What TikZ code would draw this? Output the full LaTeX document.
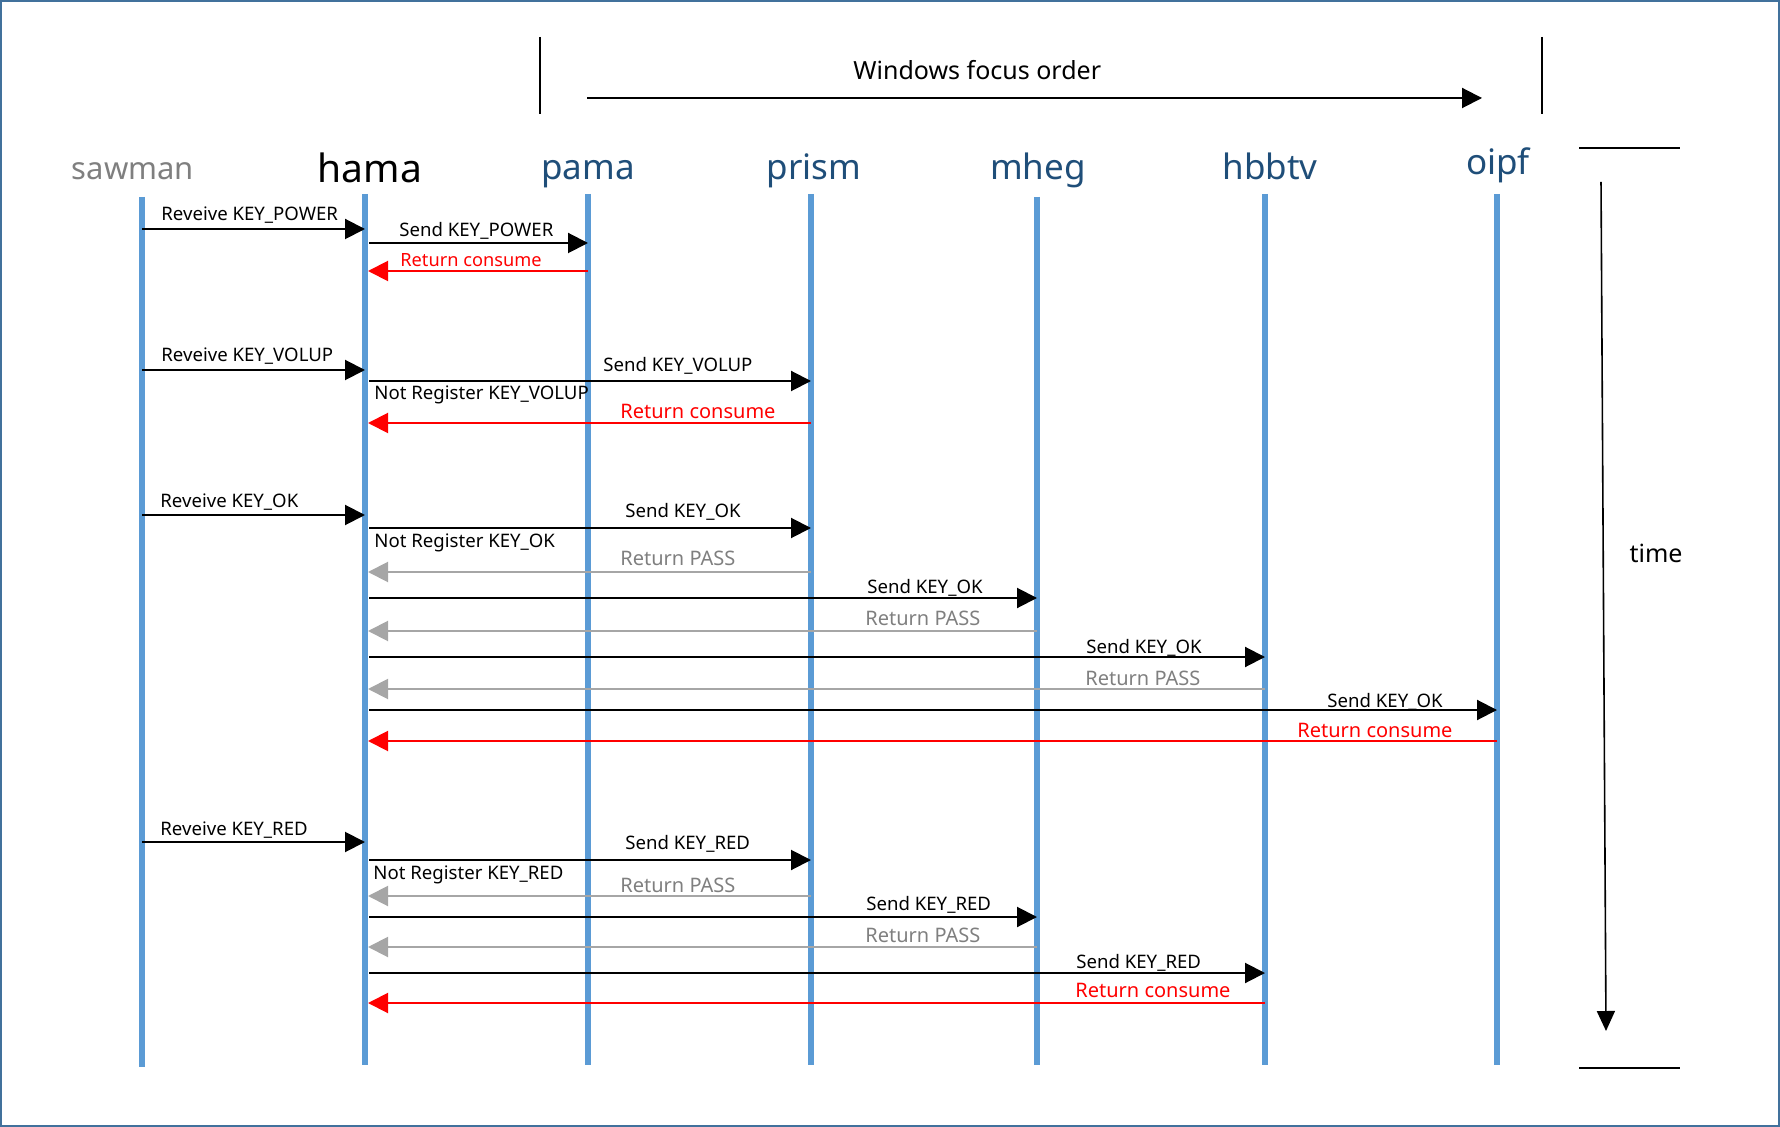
\documentclass[tikz,border=0pt]{standalone}
\usepackage{fontspec}
\setmainfont{Noto Sans}
\usetikzlibrary{arrows.meta}
\definecolor{life}{HTML}{5B9BD5}
\definecolor{headblue}{HTML}{1F4E79}
\definecolor{framec}{HTML}{41719C}
\definecolor{passgray}{HTML}{A6A6A6}
\definecolor{passtext}{HTML}{7F7F7F}
\definecolor{consred}{HTML}{FF0000}
\begin{document}
\begin{tikzpicture}[x=0.5pt,y=-0.5pt,
  lifeline/.style={line width=3pt, color=life},
  tipstyle/.style={-{Triangle[length=10pt,width=10pt]}},
  recvarrow/.style={line width=1pt, tipstyle},
  sendarrow/.style={line width=1pt, tipstyle, shorten <=2pt},
  consarrow/.style={line width=1pt, consred, tipstyle, shorten >=1.5pt},
  passarrow/.style={line width=1pt, passgray, tipstyle, shorten >=1.5pt},
  msg/.style={font=\fontsize{9.3}{11}\selectfont, anchor=base west, inner sep=0pt},
  retmsg/.style={font=\fontsize{10}{12}\selectfont, anchor=base west, inner sep=0pt},
  head/.style={anchor=base, inner sep=0pt, font=\fontsize{17.5}{20}\selectfont, text=headblue},
  thinline/.style={line width=0.6pt, black},
]
\useasboundingbox (0,0) rectangle (1780,1127);
\draw[framec, line width=1.2pt] (1,1) rectangle (1779,1126);

% heads
\node[head, text=passtext, font=\fontsize{15.5}{18}\selectfont] (sawman) at (133,180) {sawman};
\node[head, text=black, font=\fontsize{19.5}{22}\selectfont] (hama) at (370,183) {hama};
\node[head] (pama) at (588,180) {pama};
\node[head] (prism) at (814,180) {prism};
\node[head] (mheg) at (1038,180) {mheg};
\node[head] (hbbtv) at (1270,180) {hbbtv};
\node[head] (oipf) at (1498,175) {oipf};

% lifelines
\coordinate (sawT) at (142,197); \coordinate (sawB) at (142,1067);
\coordinate (hamT) at (365,194); \coordinate (hamB) at (365,1065);
\coordinate (pamT) at (588,194); \coordinate (pamB) at (588,1065);
\coordinate (priT) at (811,194); \coordinate (priB) at (811,1065);
\coordinate (mheT) at (1037,197); \coordinate (mheB) at (1037,1065);
\coordinate (hbbT) at (1265,194); \coordinate (hbbB) at (1265,1065);
\coordinate (oipT) at (1497,194); \coordinate (oipB) at (1497,1065);
\foreach \a/\b in {sawT/sawB,hamT/hamB,pamT/pamB,priT/priB,mheT/mheB,hbbT/hbbB,oipT/oipB}
  \draw[lifeline] (\a) -- (\b);

% window focus order
\node[font=\fontsize{12.5}{15}\selectfont, anchor=base west, inner sep=0pt] (wfo) at (853,80) {Windows focus order};
\coordinate (wfoS) at (587,98); \coordinate (wfoE) at (1482,98);
\draw[line width=1pt, tipstyle] (wfoS) -- (wfoE);
\coordinate (brLt) at (540,37); \coordinate (brLb) at (540,114);
\coordinate (brRt) at (1542,37); \coordinate (brRb) at (1542,114);
\draw[thinline] (brLt) -- (brLb);
\draw[thinline] (brRt) -- (brRb);

% time
\coordinate (tTopA) at (1579,148); \coordinate (tTopB) at (1680,148);
\coordinate (tBotA) at (1579,1068); \coordinate (tBotB) at (1680,1068);
\draw[thinline] (tTopA) -- (tTopB);
\draw[thinline] (tBotA) -- (tBotB);
\coordinate (tS) at (1601,182); \coordinate (tE) at (1606,1031);
\draw[line width=0.8pt, -{Triangle[length=10pt,width=9pt]}] (tS) -- (tE);
\node[font=\fontsize{12.5}{15}\selectfont, anchor=base, inner sep=0pt] (timelbl) at (1656,562) {time};

% ---- KEY_POWER
\draw[recvarrow] (sawT |- 0,229) -- (hamT |- 0,229);
\node[msg] (l1) at (161,221) {Reveive KEY\_POWER};
\draw[sendarrow] (hamT |- 0,243) -- (pamT |- 0,243);
\node[msg] (l2) at (399,237) {Send KEY\_POWER};
\draw[consarrow] (pamT |- 0,271) -- (hamT |- 0,271);
\node[msg, text=consred, font=\fontsize{9.1}{11}\selectfont] (l3) at (400,267) {Return consume};

% ---- KEY_VOLUP
\draw[recvarrow] (sawT |- 0,370) -- (hamT |- 0,370);
\node[msg] (l4) at (161,362) {Reveive KEY\_VOLUP};
\draw[sendarrow] (hamT |- 0,381) -- (priT |- 0,381);
\node[msg] (l5) at (603,372) {Send KEY\_VOLUP};
\node[msg] (l6) at (374,400) {Not Register KEY\_VOLUP};
\draw[consarrow] (priT |- 0,423) -- (hamT |- 0,423);
\node[retmsg, text=consred] (l7) at (620,419) {Return consume};

% ---- KEY_OK
\draw[recvarrow] (sawT |- 0,515) -- (hamT |- 0,515);
\node[msg] (l8) at (160,508) {Reveive KEY\_OK};
\draw[sendarrow] (hamT |- 0,528) -- (priT |- 0,528);
\node[msg] (l9) at (625,517) {Send KEY\_OK};
\node[msg] (l10) at (374,547) {Not Register KEY\_OK};
\draw[passarrow] (priT |- 0,572) -- (hamT |- 0,572);
\node[retmsg, text=passtext] (l11) at (620,566) {Return PASS};
\draw[sendarrow] (hamT |- 0,598) -- (mheT |- 0,598);
\node[msg] (l12) at (867,593) {Send KEY\_OK};
\draw[passarrow] (mheT |- 0,631) -- (hamT |- 0,631);
\node[retmsg, text=passtext] (l13) at (865,625) {Return PASS};
\draw[sendarrow] (hamT |- 0,657) -- (hbbT |- 0,657);
\node[msg] (l14) at (1086,653) {Send KEY\_OK};
\draw[passarrow] (hbbT |- 0,689) -- (hamT |- 0,689);
\node[retmsg, text=passtext] (l15) at (1085,685) {Return PASS};
\draw[sendarrow] (hamT |- 0,710) -- (oipT |- 0,710);
\node[msg] (l16) at (1327,707) {Send KEY\_OK};
\draw[consarrow] (oipT |- 0,741) -- (hamT |- 0,741);
\node[retmsg, text=consred] (l17) at (1297,737) {Return consume};

% ---- KEY_RED
\draw[recvarrow] (sawT |- 0,842) -- (hamT |- 0,842);
\node[msg] (l18) at (160,835) {Reveive KEY\_RED};
\draw[sendarrow] (hamT |- 0,860) -- (priT |- 0,860);
\node[msg] (l19) at (625,849) {Send KEY\_RED};
\node[msg] (l20) at (373,879) {Not Register KEY\_RED};
\draw[passarrow] (priT |- 0,896) -- (hamT |- 0,896);
\node[retmsg, text=passtext] (l21) at (620,892) {Return PASS};
\draw[sendarrow] (hamT |- 0,917) -- (mheT |- 0,917);
\node[msg] (l22) at (866,910) {Send KEY\_RED};
\draw[passarrow] (mheT |- 0,947) -- (hamT |- 0,947);
\node[retmsg, text=passtext] (l23) at (865,942) {Return PASS};
\draw[sendarrow] (hamT |- 0,973) -- (hbbT |- 0,973);
\node[msg] (l24) at (1076,968) {Send KEY\_RED};
\draw[consarrow] (hbbT |- 0,1003) -- (hamT |- 0,1003);
\node[retmsg, text=consred] (l25) at (1075,997) {Return consume};
\end{tikzpicture}
\end{document}
